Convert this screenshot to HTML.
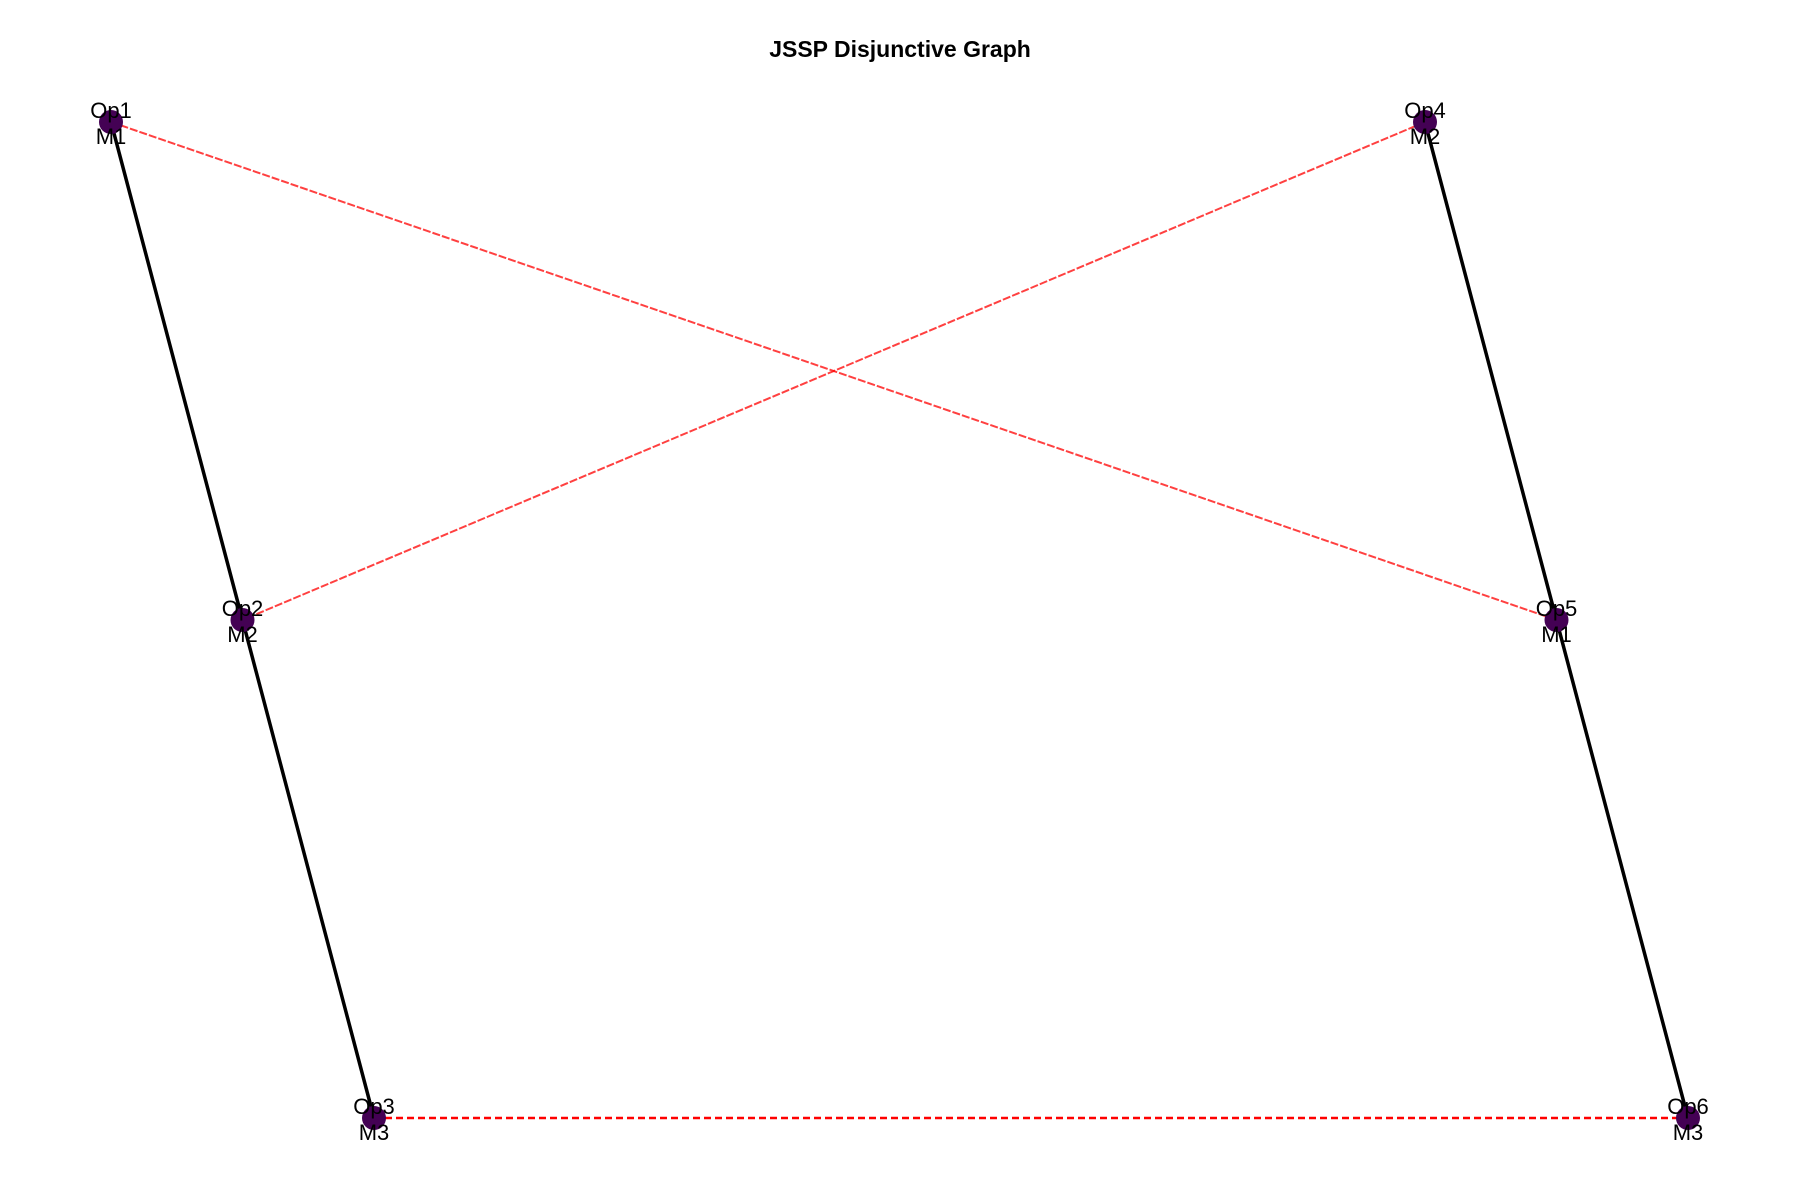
<!DOCTYPE html>
<html><head><meta charset="utf-8"><style>body{margin:0;background:#fff}svg{display:block}</style></head>
<body>
<svg width="1800" height="1200" xmlns="http://www.w3.org/2000/svg">
<text x="900" y="57" text-anchor="middle" font-family="Liberation Sans, sans-serif" font-weight="bold" font-size="23">JSSP Disjunctive Graph</text>
<g id="edges"></g><g id="nodes"></g>
</svg>
<script>
const nodeNames=["Op1","Op2","Op3","Op4","Op5","Op6"];
const nodeMachines=["M1","M2","M3","M2","M1","M3"];
const nodeJob=[0,0,0,1,1,1];
const nodeRow=[0,1,2,0,1,2];
const conjEdges=[[0,1],[1,2],[3,4],[4,5]];
const disjEdges=[[0,4],[3,1],[2,5]];
const px=(j,r)=>111+r*131.5+j*1314;
const sy=r=>122+r*498;
const NS="http://www.w3.org/2000/svg";
const eg=document.getElementById('edges'),ng=document.getElementById('nodes');
const X=i=>px(nodeJob[i],nodeRow[i]), Y=i=>sy(nodeRow[i]);
function line(a,b,st,w,da,op,name){const l=document.createElementNS(NS,'line');
l.setAttribute('x1',X(a));l.setAttribute('y1',Y(a));l.setAttribute('x2',X(b));l.setAttribute('y2',Y(b));
l.setAttribute('stroke',st);l.setAttribute('stroke-width',w);if(da)l.setAttribute('stroke-dasharray',da);l.setAttribute('stroke-opacity',op);


eg.appendChild(l);}
conjEdges.forEach(e=>line(e[0],e[1],'#000',3.5,null,1,'conjunctive-edge'));
disjEdges.forEach(e=>{const flat=nodeRow[e[0]]===nodeRow[e[1]];line(e[0],e[1],'#f00',flat?2.5:2,flat?'7,4':'8,2',flat?1:0.75,'disjunctive-edge');});
nodeNames.forEach((n,i)=>{const x=X(i),y=Y(i);
const c=document.createElementNS(NS,'circle');c.setAttribute('cx',x);c.setAttribute('cy',y);c.setAttribute('r',12);c.setAttribute('fill','#440154');


ng.appendChild(c);
[[n,y-4],[nodeMachines[i],y+22]].forEach(([t,ty])=>{const tx=document.createElementNS(NS,'text');tx.setAttribute('x',x);tx.setAttribute('y',ty);tx.setAttribute('text-anchor','middle');tx.setAttribute('font-family','Liberation Sans, sans-serif');tx.setAttribute('font-size','22');tx.textContent=t;


ng.appendChild(tx);});});
</script>
</body></html>
